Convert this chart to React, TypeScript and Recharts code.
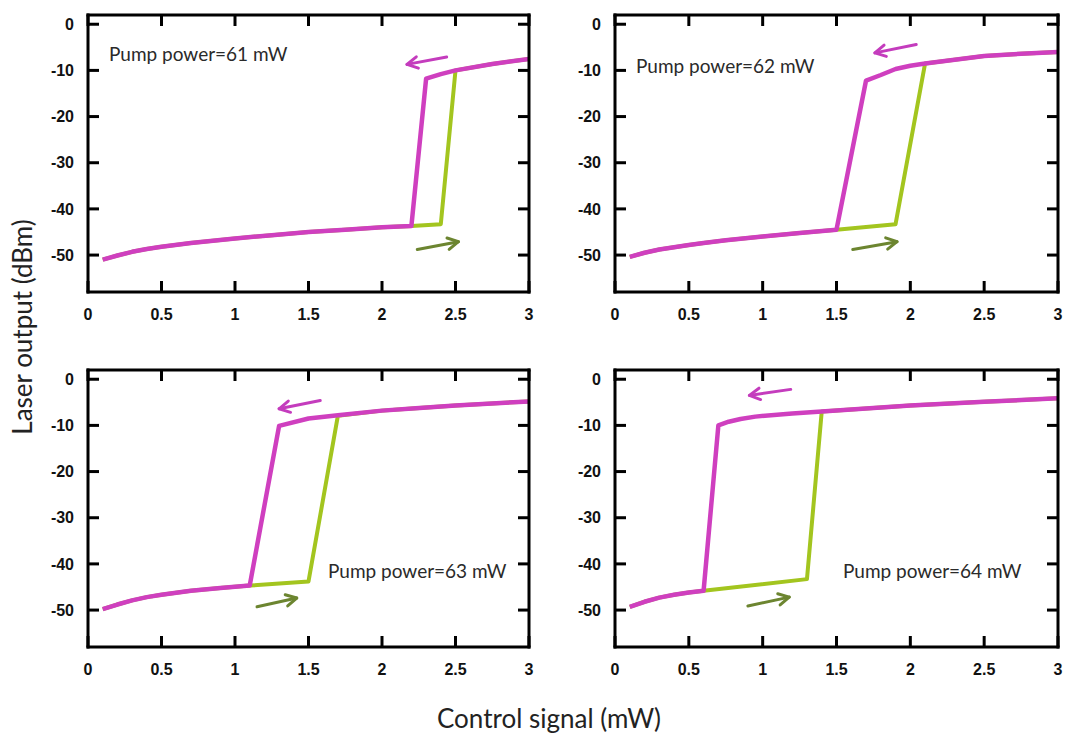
import { LineChart, Line, XAxis, YAxis, ReferenceLine } from 'recharts';

const xTicks = [0, 0.5, 1, 1.5, 2, 2.5, 3];
const yTicks = [-50, -40, -30, -20, -10, 0];

// Pump power = 61 mW
const label61 = 'Pump power=61 mW';
const downX61 = [3.0, 2.75, 2.5, 2.4, 2.3, 2.2, 2.0, 1.75, 1.5, 1.25, 1.0, 0.85, 0.7, 0.5, 0.4, 0.3, 0.2, 0.1];
const downY61 = [-7.5, -8.6, -10.0, -10.8, -11.8, -43.7, -44.0, -44.5, -45.0, -45.7, -46.4, -46.9, -47.4, -48.2, -48.7, -49.3, -50.1, -51.0];
const upX61 = [0.1, 0.2, 0.3, 0.4, 0.5, 0.7, 0.85, 1.0, 1.25, 1.5, 1.75, 2.0, 2.2, 2.4, 2.5, 2.75, 3.0];
const upY61 = [-51.0, -50.1, -49.3, -48.7, -48.2, -47.4, -46.9, -46.4, -45.7, -45.0, -44.5, -44.0, -43.7, -43.3, -10.0, -8.6, -7.5];
const backArrowX61 = [2.44, 2.17];
const backArrowY61 = [-7.1, -8.7];
const fwdArrowX61 = [2.24, 2.52];
const fwdArrowY61 = [-48.8, -47.1];

// Pump power = 62 mW
const label62 = 'Pump power=62 mW';
const downX62 = [3.0, 2.75, 2.5, 2.3, 2.1, 2.0, 1.9, 1.8, 1.7, 1.5, 1.25, 1.0, 0.75, 0.6, 0.5, 0.4, 0.3, 0.2, 0.1];
const downY62 = [-6.0, -6.4, -6.9, -7.7, -8.5, -9.0, -9.7, -11.0, -12.2, -44.5, -45.2, -46.0, -46.8, -47.4, -47.8, -48.3, -48.8, -49.5, -50.4];
const upX62 = [0.1, 0.2, 0.3, 0.4, 0.5, 0.6, 0.75, 1.0, 1.25, 1.5, 1.9, 2.1, 2.3, 2.5, 2.75, 3.0];
const upY62 = [-50.4, -49.5, -48.8, -48.3, -47.8, -47.4, -46.8, -46.0, -45.2, -44.5, -43.3, -8.5, -7.7, -6.9, -6.4, -6.0];
const backArrowX62 = [2.04, 1.76];
const backArrowY62 = [-4.4, -6.2];
const fwdArrowX62 = [1.61, 1.91];
const fwdArrowY62 = [-48.8, -47.1];

// Pump power = 63 mW
const label63 = 'Pump power=63 mW';
const downX63 = [3.0, 2.5, 2.23, 2.0, 1.7, 1.5, 1.3, 1.1, 0.9, 0.7, 0.5, 0.4, 0.3, 0.2, 0.1];
const downY63 = [-4.8, -5.7, -6.3, -6.8, -7.8, -8.5, -10.1, -44.7, -45.2, -45.8, -46.7, -47.2, -47.9, -48.8, -49.8];
const upX63 = [0.1, 0.2, 0.3, 0.4, 0.5, 0.7, 0.9, 1.1, 1.5, 1.7, 2.0, 2.23, 2.5, 3.0];
const upY63 = [-49.8, -48.8, -47.9, -47.2, -46.7, -45.8, -45.2, -44.7, -43.8, -7.9, -6.8, -6.3, -5.7, -4.8];
const backArrowX63 = [1.58, 1.3];
const backArrowY63 = [-4.6, -6.4];
const fwdArrowX63 = [1.15, 1.42];
const fwdArrowY63 = [-49.3, -47.4];

// Pump power = 64 mW
const label64 = 'Pump power=64 mW';
const downX64 = [3.0, 2.5, 2.0, 1.4, 1.2, 0.95, 0.85, 0.77, 0.7, 0.6, 0.5, 0.4, 0.3, 0.2, 0.1];
const downY64 = [-4.1, -4.9, -5.7, -7.0, -7.4, -8.1, -8.6, -9.2, -10.0, -45.8, -46.2, -46.7, -47.3, -48.2, -49.3];
const upX64 = [0.1, 0.2, 0.3, 0.4, 0.5, 0.6, 1.3, 1.4, 2.0, 2.5, 3.0];
const upY64 = [-49.3, -48.2, -47.3, -46.7, -46.2, -45.8, -43.3, -7.0, -5.7, -4.9, -4.1];
const backArrowX64 = [1.19, 0.91];
const backArrowY64 = [-2.2, -3.5];
const fwdArrowX64 = [0.9, 1.18];
const fwdArrowY64 = [-49.1, -47.2];

const MAGENTA = '#cf3fbf';
const GREEN = '#a3c51f';
const MAGENTA_ARROW = '#c43cbd';
const GREEN_ARROW = '#6c8530';

const toPoints = (xs: number[], ys: number[]) => xs.map((x, i) => ({ x, y: ys[i] }));

const arrowShape = (color: string) => (props: any) => {
  const { x1, y1, x2, y2 } = props;
  const ang = Math.atan2(y2 - y1, x2 - x1);
  const len = 12;
  const spread = 0.5;
  const ax = x2 - len * Math.cos(ang - spread);
  const ay = y2 - len * Math.sin(ang - spread);
  const bx = x2 - len * Math.cos(ang + spread);
  const by = y2 - len * Math.sin(ang + spread);
  return (
    <g>
      <line x1={x1} y1={y1} x2={x2} y2={y2} stroke={color} strokeWidth={3} strokeLinecap="round" />
      <polyline
        points={`${ax},${ay} ${x2},${y2} ${bx},${by}`}
        fill="none"
        stroke={color}
        strokeWidth={3}
        strokeLinecap="round"
        strokeLinejoin="round"
      />
    </g>
  );
};

const frame = { stroke: '#000', strokeWidth: 3, strokeLinecap: 'square' as const };
const tickLine = { stroke: '#000', strokeWidth: 3 };
const tickFont = { fill: '#111', fontSize: 16, fontWeight: 700, fontFamily: '"Liberation Sans", Arial, sans-serif' };

interface Box {
  left: number;
  top: number;
  right: number;
  bottom: number;
}

interface PanelProps {
  box: Box;
  label: string;
  labelPos: { left: number; top: number };
  downX: number[];
  downY: number[];
  upX: number[];
  upY: number[];
  backX: number[];
  backY: number[];
  fwdX: number[];
  fwdY: number[];
}

const Panel = ({ box, label, labelPos, downX, downY, upX, upY, backX, backY, fwdX, fwdY }: PanelProps) => {
  const width = box.right - box.left + 80;
  const height = box.bottom - box.top + 55;
  return (
    <>
      <div style={{ position: 'absolute', left: box.left - 70, top: box.top - 10, width, height }}>
        <LineChart width={width} height={height} margin={{ top: 9, right: 9, bottom: 5, left: 10 }}>
          <XAxis
            dataKey="x"
            type="number"
            domain={[0, 3]}
            ticks={xTicks}
            interval={0}
            allowDataOverflow
            height={40}
            tickSize={-11}
            tickMargin={28}
            axisLine={frame}
            tickLine={tickLine}
            tick={tickFont}
          />
          <XAxis
            xAxisId="top"
            dataKey="x"
            orientation="top"
            type="number"
            domain={[0, 3]}
            ticks={xTicks}
            interval={0}
            allowDataOverflow
            height={1}
            tickSize={-11}
            axisLine={frame}
            tickLine={tickLine}
            tickFormatter={() => ''}
          />
          <YAxis
            type="number"
            domain={[-58, 2]}
            ticks={yTicks}
            interval={0}
            allowDataOverflow
            width={60}
            tickSize={-11}
            tickMargin={25}
            axisLine={frame}
            tickLine={tickLine}
            tick={tickFont}
          />
          <YAxis
            yAxisId="right"
            orientation="right"
            type="number"
            domain={[-58, 2]}
            ticks={yTicks}
            interval={0}
            allowDataOverflow
            width={1}
            tickSize={-11}
            axisLine={frame}
            tickLine={tickLine}
            tickFormatter={() => ''}
          />
          {/* forward sweep is tied to the mirror axes (same domains) so they get drawn */}
          <Line
            data={toPoints(upX, upY)}
            dataKey="y"
            xAxisId="top"
            yAxisId="right"
            type="linear"
            stroke={GREEN}
            strokeWidth={4}
            dot={false}
            strokeLinejoin="round"
            isAnimationActive={false}
          />
          <Line
            data={toPoints(downX, downY)}
            dataKey="y"
            type="linear"
            stroke={MAGENTA}
            strokeWidth={4.5}
            dot={false}
            strokeLinejoin="round"
            isAnimationActive={false}
          />
          <ReferenceLine
            segment={[{ x: backX[0], y: backY[0] }, { x: backX[1], y: backY[1] }]}
            shape={arrowShape(MAGENTA_ARROW)}
            ifOverflow="visible"
          />
          <ReferenceLine
            segment={[{ x: fwdX[0], y: fwdY[0] }, { x: fwdX[1], y: fwdY[1] }]}
            shape={arrowShape(GREEN_ARROW)}
            ifOverflow="visible"
          />
        </LineChart>
      </div>
      <div
        style={{
          position: 'absolute',
          left: labelPos.left,
          top: labelPos.top,
          fontFamily: 'Lato, sans-serif',
          fontSize: 19,
          lineHeight: 1.2,
          color: '#2a2a2a',
          whiteSpace: 'nowrap',
        }}
      >
        {label}
      </div>
    </>
  );
};

export default function App() {
  return (
    <div style={{ position: 'absolute', left: 0, top: 0, width: 1068, height: 735, background: '#fff' }}>
      <Panel
        box={{ left: 88, top: 15, right: 529, bottom: 292 }}
        label={label61}
        labelPos={{ left: 109, top: 43 }}
        downX={downX61}
        downY={downY61}
        upX={upX61}
        upY={upY61}
        backX={backArrowX61}
        backY={backArrowY61}
        fwdX={fwdArrowX61}
        fwdY={fwdArrowY61}
      />
      <Panel
        box={{ left: 615, top: 15, right: 1058, bottom: 292 }}
        label={label62}
        labelPos={{ left: 636, top: 55 }}
        downX={downX62}
        downY={downY62}
        upX={upX62}
        upY={upY62}
        backX={backArrowX62}
        backY={backArrowY62}
        fwdX={fwdArrowX62}
        fwdY={fwdArrowY62}
      />
      <Panel
        box={{ left: 88, top: 370, right: 529, bottom: 647 }}
        label={label63}
        labelPos={{ left: 328, top: 560 }}
        downX={downX63}
        downY={downY63}
        upX={upX63}
        upY={upY63}
        backX={backArrowX63}
        backY={backArrowY63}
        fwdX={fwdArrowX63}
        fwdY={fwdArrowY63}
      />
      <Panel
        box={{ left: 615, top: 370, right: 1058, bottom: 647 }}
        label={label64}
        labelPos={{ left: 843, top: 560 }}
        downX={downX64}
        downY={downY64}
        upX={upX64}
        upY={upY64}
        backX={backArrowX64}
        backY={backArrowY64}
        fwdX={fwdArrowX64}
        fwdY={fwdArrowY64}
      />
      <div
        style={{
          position: 'absolute',
          left: 22 - 150,
          top: 327 - 16,
          width: 300,
          height: 32,
          lineHeight: '32px',
          textAlign: 'center',
          transform: 'rotate(-90deg)',
          fontFamily: 'Lato, sans-serif',
          fontSize: 26,
          color: '#222',
          whiteSpace: 'nowrap',
        }}
      >
        Laser output (dBm)
      </div>
      <div
        style={{
          position: 'absolute',
          left: 549 - 150,
          top: 703,
          width: 300,
          textAlign: 'center',
          fontFamily: 'Lato, sans-serif',
          fontSize: 26,
          lineHeight: 1.2,
          color: '#222',
          whiteSpace: 'nowrap',
        }}
      >
        Control signal (mW)
      </div>
    </div>
  );
}
